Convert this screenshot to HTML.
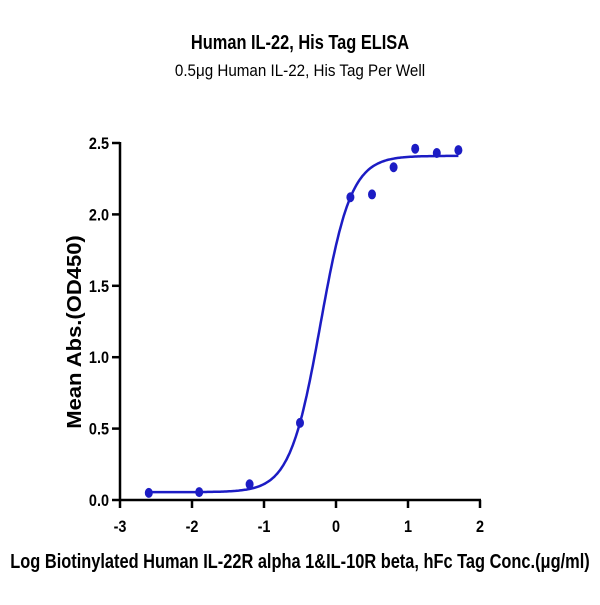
<!DOCTYPE html>
<html><head><meta charset="utf-8"><style>
body{margin:0;background:#fff;width:600px;height:600px;overflow:hidden}
text{font-family:"Liberation Sans",sans-serif}
</style></head><body>
<svg id="chart" width="600" height="600">
<text x="300" y="49" text-anchor="middle" font-size="20" font-weight="bold" transform="translate(300,0) scale(0.82,1) translate(-300,0)">Human IL-22, His Tag ELISA</text>
<text x="300" y="76" text-anchor="middle" font-size="16.5" transform="translate(300,0) scale(0.92,1) translate(-300,0)">0.5μg Human IL-22, His Tag Per Well</text>
<text x="300" y="568" text-anchor="middle" font-size="20" font-weight="bold" transform="translate(300,0) scale(0.82,1) translate(-300,0)">Log Biotinylated Human IL-22R alpha 1&amp;IL-10R beta, hFc Tag Conc.(μg/ml)</text>
<text x="0" y="0" text-anchor="middle" font-size="20" font-weight="bold" transform="translate(81,332) rotate(-90) scale(1.1,1)">Mean Abs.(OD450)</text>
<g id="axes"></g><g id="marks"></g>
</svg>
<script>
const xTicks=[-3,-2,-1,0,1,2];
const yTicks=[0,0.5,1,1.5,2,2.5];
const yTickLabels=["0.0","0.5","1.0","1.5","2.0","2.5"];
const xVals=[-2.6,-1.9,-1.2,-0.5,0.2,0.5,0.8,1.1,1.4,1.7];
const yVals=[0.05,0.055,0.11,0.54,2.12,2.14,2.33,2.46,2.43,2.45];
const fitBottom=0.055, fitTop=2.41, fitEC50=-0.215, fitHill=2.05;
const NS="http://www.w3.org/2000/svg";
const X=v=>120+(v+3)*72;
const Y=v=>500-v*142.8;
function mk(t,a,p){const e=document.createElementNS(NS,t);for(const k in a)e.setAttribute(k,a[k]);p.appendChild(e);return e;}
const ax=document.getElementById('axes'),mg=document.getElementById('marks');
let l=mk('line',{x1:120,y1:500,x2:481,y2:500,stroke:'#000','stroke-width':2.5},ax);


l=mk('line',{x1:120,y1:501,x2:120,y2:Y(2.5)-1,stroke:'#000','stroke-width':2.5},ax);


xTicks.forEach(v=>{
 mk('line',{x1:X(v),y1:500,x2:X(v),y2:508,stroke:'#000','stroke-width':2.5},ax);
 const t=mk('text',{x:0,y:0,'text-anchor':'middle','font-size':17,'font-weight':'bold',transform:`translate(${X(v)},532) scale(0.85,1)`},ax);
 t.textContent=v;
 
 
});
yTicks.forEach((v,i)=>{
 mk('line',{x1:112,y1:Y(v),x2:120,y2:Y(v),stroke:'#000','stroke-width':2.5},ax);
 const t=mk('text',{x:0,y:0,'text-anchor':'end','font-size':17,'font-weight':'bold',transform:`translate(109,${Y(v)+6}) scale(0.85,1)`},ax);
 t.textContent=yTickLabels[i];
 
 
});
let d='';
for(let i=0;i<=200;i++){const x=-2.6+i*(1.7+2.6)/200;const y=fitBottom+(fitTop-fitBottom)/(1+Math.pow(10,(fitEC50-x)*fitHill));d+=(i?'L':'M')+X(x).toFixed(1)+','+Y(y).toFixed(1);}
const p=mk('path',{d:d,fill:'none',stroke:'#1c1cc4','stroke-width':2.5},mg);


xVals.forEach((v,i)=>{
 const c=mk('ellipse',{cx:X(v),cy:Y(yVals[i]),rx:4,ry:5,fill:'#1c1cc4'},mg);
 
 
});
</script>
</body></html>
